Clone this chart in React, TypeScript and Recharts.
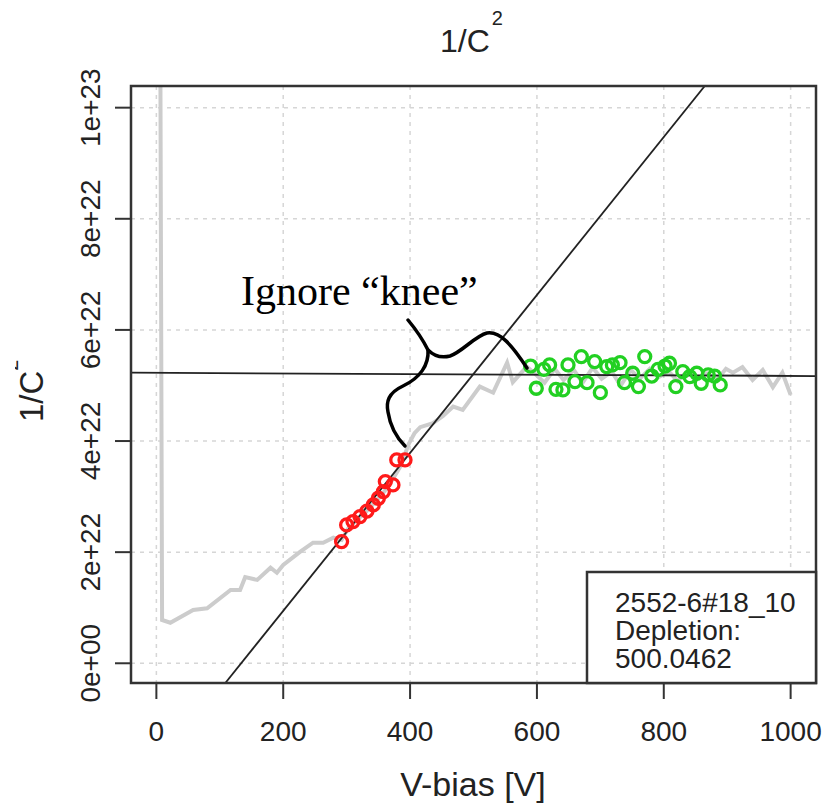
import { CartesianGrid, ComposedChart, Line, Scatter, XAxis, YAxis } from 'recharts'

// raw 1/C^2 sweep (units of 1e22)
const rawBias = [6, 9, 22, 58, 80, 117, 132, 140, 159, 180, 190, 200, 227, 247, 263, 279, 292, 302, 316, 330, 345, 360, 372, 385, 398, 407, 416, 436, 452, 468, 483, 510, 531, 553, 562, 584, 598, 612, 628, 642, 658, 672, 688, 702, 718, 732, 748, 762, 778, 792, 808, 822, 838, 852, 868, 884, 898, 909, 924, 940, 956, 972, 987, 1000]
const rawInvC2 = [12, 0.78, 0.73, 0.96, 0.99, 1.32, 1.32, 1.55, 1.5, 1.72, 1.63, 1.77, 2.01, 2.17, 2.17, 2.26, 2.22, 2.42, 2.58, 2.72, 2.9, 3.1, 3.3, 3.55, 3.95, 4.14, 4.25, 4.32, 4.45, 4.62, 4.56, 4.98, 4.87, 5.41, 5.06, 5.34, 5.2, 5.05, 5.3, 5.1, 5.28, 5.05, 5.32, 5.12, 5.25, 5.0, 5.28, 5.12, 5.3, 5.15, 5.25, 5.08, 5.27, 5.12, 5.22, 5.1, 5.3, 5.23, 5.33, 5.1, 5.28, 4.97, 5.23, 4.83]

// points used for the rising fit
const redBias = [292, 300, 310, 321, 332, 342, 350, 358, 361, 373, 379, 392]
const redInvC2 = [2.19, 2.49, 2.55, 2.64, 2.74, 2.85, 2.97, 3.09, 3.27, 3.21, 3.66, 3.66]

// points used for the plateau fit
const greenBias = [590, 599, 611, 620, 630, 641, 649, 660, 670, 679, 691, 700, 710, 719, 731, 738, 751, 760, 770, 781, 791, 802, 809, 819, 830, 841, 852, 859, 870, 880, 889]
const greenInvC2 = [5.35, 4.95, 5.29, 5.37, 4.93, 4.92, 5.37, 5.07, 5.52, 5.05, 5.43, 4.87, 5.34, 5.37, 5.41, 5.05, 5.22, 4.98, 5.52, 5.17, 5.29, 5.35, 5.4, 4.98, 5.25, 5.16, 5.22, 5.04, 5.19, 5.17, 5.01]

// fitted lines, end points where they leave the plot
const riseBias = [108.7, 864.6]
const riseInvC2 = [-0.355, 10.39]
const flatBias = [-40, 1040]
const flatInvC2 = [5.23, 5.17]

const xTicks = [0, 200, 400, 600, 800, 1000]
const yTicks = [0, 2, 4, 6, 8, 10]

const zip = (xs: number[], ys: number[]) => xs.map((v, i) => ({ v, y: ys[i] }))

const rawData = zip(rawBias, rawInvC2)
const redData = zip(redBias, redInvC2)
const greenData = zip(greenBias, greenInvC2)
const riseData = zip(riseBias, riseInvC2)
const flatData = zip(flatBias, flatInvC2)

const SANS = '"Liberation Sans", Arial, sans-serif'
const INK = '#222'

const fmtY = (v: number) => (v === 0 ? '0e+00' : v === 10 ? '1e+23' : `${v}e+22`)

function YTick({ x, y, payload }: any) {
  return (
    <text x={x} y={y} transform={`rotate(-90 ${x} ${y})`} textAnchor="middle" fontSize={28} fontFamily={SANS} fill={INK}>
      {fmtY(payload.value)}
    </text>
  )
}

const ring = (color: string) => (props: any) => (
  <circle cx={props.cx} cy={props.cy} r={6} fill="none" stroke={color} strokeWidth={3.3} />
)

export default function App() {
  return (
    <div style={{ position: 'absolute', left: 0, top: 0, width: 825, height: 809, background: '#fff' }}>
      <ComposedChart width={825} height={809} margin={{ top: 86, right: 9, left: 71, bottom: 66 }}>
        <CartesianGrid stroke="#d6d6d6" strokeDasharray="4 5" strokeWidth={1.5} />
        <XAxis
          type="number"
          dataKey="v"
          domain={[-40, 1040]}
          ticks={xTicks}
          allowDataOverflow
          height={60}
          axisLine={false}
          tickSize={16}
          tickMargin={22}
          tickLine={{ stroke: '#333', strokeWidth: 2 }}
          tick={{ fontSize: 28, fontFamily: SANS, fill: INK }}
        />
        <YAxis
          type="number"
          dataKey="y"
          domain={[-0.355, 10.39]}
          ticks={yTicks}
          allowDataOverflow
          width={60}
          axisLine={false}
          tickSize={16}
          tickMargin={15}
          tickLine={{ stroke: '#333', strokeWidth: 2 }}
          tick={<YTick />}
        />
        <Line data={rawData} dataKey="y" type="linear" stroke="#cccccc" strokeWidth={4} dot={false} isAnimationActive={false} />
        <Scatter data={redData} dataKey="y" shape={ring('#ff1a1a')} isAnimationActive={false} />
        <Scatter data={greenData} dataKey="y" shape={ring('#22d022')} isAnimationActive={false} />
        <Line data={riseData} dataKey="y" type="linear" stroke="#222" strokeWidth={1.8} dot={false} isAnimationActive={false} />
        <Line data={flatData} dataKey="y" type="linear" stroke="#222" strokeWidth={1.8} dot={false} isAnimationActive={false} />
      </ComposedChart>

      <svg width={825} height={809} style={{ position: 'absolute', left: 0, top: 0, pointerEvents: 'none' }}>
        <defs>
          <clipPath id="ylab-clip">
            <rect x={15} y={0} width={200} height={809} />
          </clipPath>
        </defs>
        {/* plot frame */}
        <rect x={131} y={86} width={685} height={597} fill="none" stroke="#333" strokeWidth={2.5} />

        {/* title */}
        <text x={440} y={52} fontSize={32} fontFamily={SANS} fill={INK}>
          1/C<tspan fontSize={20} dx={2} dy={-27}>2</tspan>
        </text>

        {/* axis titles */}
        <text x={473} y={796} textAnchor="middle" fontSize={34} fontFamily={SANS} fill={INK}>
          V-bias [V]
        </text>
        <g clipPath="url(#ylab-clip)">
          <text x={43} y={422} transform="rotate(-90 43 422)" fontSize={33} fontFamily={SANS} fill={INK}>
            1/C<tspan fontSize={20} dy={-25}>2</tspan>
          </text>
        </g>

        {/* info box */}
        <rect x={587} y={572} width={229} height={111} fill="#fff" stroke="#333" strokeWidth={2.5} />
        <text x={615} fontSize={28} fontFamily={SANS} fill={INK}>
          <tspan x={615} y={612}>2552-6#18_10</tspan>
          <tspan x={615} y={640}>Depletion:</tspan>
          <tspan x={615} y={668}>500.0462</tspan>
        </text>

        {/* hand annotation */}
        <text x={241} y={305} fontSize={42} fontFamily='"Liberation Serif", "Times New Roman", serif' fill="#000">
          Ignore “knee”
        </text>
        <path
          d="M408,320 C418,332 424,342 428,350 C434,356 442,358 450,356 C462,352 475,336 487,333 C500,331 512,345 527,368"
          fill="none"
          stroke="#000"
          strokeWidth={3.5}
          strokeLinecap="round"
        />
        <path
          d="M428,350 C429,365 420,378 403,386 C388,393 386,402 388,412 C390,425 396,437 405,446"
          fill="none"
          stroke="#000"
          strokeWidth={3.5}
          strokeLinecap="round"
        />
      </svg>
    </div>
  )
}
